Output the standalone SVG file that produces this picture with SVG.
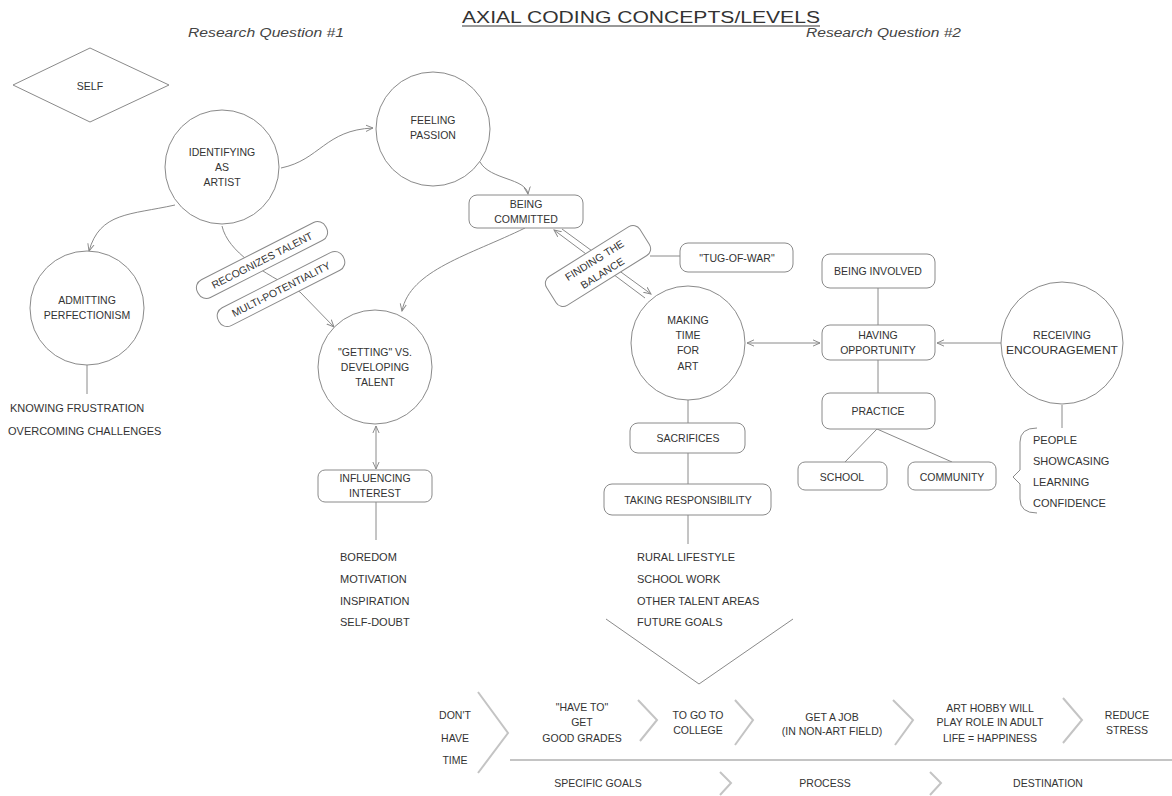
<svg xmlns="http://www.w3.org/2000/svg" width="1172" height="796" viewBox="0 0 1172 796">
<defs>
<marker id="arr" viewBox="0 0 10 10" refX="9" refY="5" markerWidth="8" markerHeight="8" orient="auto-start-reverse" markerUnits="userSpaceOnUse">
<path d="M0,1 L9,5 L0,9" fill="none" stroke="#888" stroke-width="1.2"/>
</marker>
<style>
.t{font-family:"Liberation Sans",Arial,sans-serif;font-size:10.5px;fill:#333;text-anchor:middle;dominant-baseline:central}
.l{font-family:"Liberation Sans",Arial,sans-serif;font-size:11px;fill:#333;dominant-baseline:central}
.n{fill:#fff;stroke:#8a8a8a;stroke-width:1}
.c{fill:none;stroke:#8a8a8a;stroke-width:1}
.ch{fill:none;stroke:#c4c4c4;stroke-width:2}
.rq{font-family:"Liberation Sans",Arial,sans-serif;font-size:12px;font-style:italic;fill:#444}
</style>
</defs>
<rect width="1172" height="796" fill="#fff"/>

<text x="641" y="23" font-family="Liberation Sans,Arial,sans-serif" font-size="16" fill="#333" text-anchor="middle" textLength="358" lengthAdjust="spacingAndGlyphs">AXIAL CODING CONCEPTS/LEVELS</text>
<line x1="462" y1="26" x2="820" y2="26" stroke="#333" stroke-width="1"/>
<text class="rq" x="188" y="37" textLength="156" lengthAdjust="spacingAndGlyphs">Research Question #1</text>
<text class="rq" x="806" y="37" textLength="155" lengthAdjust="spacingAndGlyphs">Research Question #2</text>

<g id="connectors">
<path class="c" d="M281,168 C320,160 325,130 373,128" marker-end="url(#arr)"/>
<path class="c" d="M175,205 C130,215 100,212 89,251" marker-end="url(#arr)"/>
<path class="c" d="M222,226 C228,252 262,272 300,292 L334,327" marker-end="url(#arr)"/>
<path class="c" d="M480,162 C490,180 526,178 528,194" marker-end="url(#arr)"/>
<path class="c" d="M525,228 C470,255 410,270 402,311" marker-end="url(#arr)"/>
<line class="c" x1="645" y1="298" x2="554" y2="230" marker-end="url(#arr)"/>
<line class="c" x1="562" y1="229" x2="651" y2="294" marker-end="url(#arr)"/>
<line class="c" x1="650" y1="256" x2="680" y2="256"/>
<line class="c" x1="376" y1="426" x2="376" y2="469" marker-start="url(#arr)" marker-end="url(#arr)"/>
<line class="c" x1="376" y1="502" x2="376" y2="540"/>
<line class="c" x1="87" y1="365" x2="87" y2="394"/>
<line class="c" x1="747" y1="343" x2="820" y2="343" marker-start="url(#arr)" marker-end="url(#arr)"/>
<line class="c" x1="1002" y1="343" x2="937" y2="343" marker-end="url(#arr)"/>
<line class="c" x1="878" y1="288" x2="878" y2="325"/>
<line class="c" x1="878" y1="360" x2="878" y2="393"/>
<line class="c" x1="877" y1="429" x2="845" y2="462"/>
<line class="c" x1="877" y1="429" x2="952" y2="462"/>
<line class="c" x1="1062" y1="405" x2="1062" y2="428"/>
<line class="c" x1="688" y1="400" x2="688" y2="423"/>
<line class="c" x1="688" y1="453" x2="688" y2="484"/>
<line class="c" x1="688" y1="515" x2="688" y2="544"/>
<path class="c" d="M1037,428 Q1020,428 1020,442 L1020,470 L1013,477 L1020,484 L1020,499 Q1020,513 1037,513"/>
</g>

<g id="self">
<polygon class="n" points="13,85 90,48 169,85 90,122"/>
<text class="t" x="90" y="86" font-size="14">SELF</text>
</g>

<g id="identifying">
<circle class="n" cx="222" cy="167" r="57"/>
<text class="t" x="222" y="152">IDENTIFYING</text>
<text class="t" x="222" y="167">AS</text>
<text class="t" x="222" y="182">ARTIST</text>
</g>

<g id="feeling">
<circle class="n" cx="433" cy="129" r="57"/>
<text class="t" x="433" y="120">FEELING</text>
<text class="t" x="433" y="135">PASSION</text>
</g>

<g id="admitting">
<circle class="n" cx="87" cy="308" r="57"/>
<text class="t" x="87" y="300">ADMITTING</text>
<text class="t" x="87" y="315">PERFECTIONISM</text>
</g>
<g id="admitting-list">
<text class="l" x="10" y="408">KNOWING FRUSTRATION</text>
<text class="l" x="8" y="431">OVERCOMING CHALLENGES</text>
</g>

<g id="recognizes" transform="translate(262,260) rotate(-27)">
<rect class="n" x="-72" y="-10" width="144" height="20" rx="9"/>
<text class="t" x="0" y="0">RECOGNIZES TALENT</text>
</g>
<g id="multi" transform="translate(281,289) rotate(-27)">
<rect class="n" x="-70" y="-10" width="140" height="20" rx="9"/>
<text class="t" x="0" y="0">MULTI-POTENTIALITY</text>
</g>

<g id="getting">
<circle class="n" cx="375" cy="367" r="57"/>
<text class="t" x="375" y="352">"GETTING" VS.</text>
<text class="t" x="375" y="367">DEVELOPING</text>
<text class="t" x="375" y="382">TALENT</text>
</g>

<g id="influencing">
<rect class="n" x="318" y="470" width="114" height="32" rx="7"/>
<text class="t" x="375" y="478">INFLUENCING</text>
<text class="t" x="375" y="493">INTEREST</text>
</g>
<g id="influencing-list">
<text class="l" x="340" y="557">BOREDOM</text>
<text class="l" x="340" y="579">MOTIVATION</text>
<text class="l" x="340" y="601">INSPIRATION</text>
<text class="l" x="340" y="622">SELF-DOUBT</text>
</g>

<g id="committed">
<rect class="n" x="469" y="195" width="114" height="33" rx="8"/>
<text class="t" x="526" y="204">BEING</text>
<text class="t" x="526" y="219">COMMITTED</text>
</g>

<g id="finding" transform="translate(598,266) rotate(-32)">
<rect class="n" x="-55" y="-17" width="110" height="34" rx="8"/>
<text class="t" x="0" y="-7">FINDING THE</text>
<text class="t" x="0" y="8">BALANCE</text>
</g>

<g id="tug">
<rect class="n" x="680" y="243" width="113" height="29" rx="8"/>
<text class="t" x="737" y="258">"TUG-OF-WAR"</text>
</g>

<g id="making">
<circle class="n" cx="688" cy="343" r="57"/>
<text class="t" x="688" y="320">MAKING</text>
<text class="t" x="688" y="335">TIME</text>
<text class="t" x="688" y="350">FOR</text>
<text class="t" x="688" y="366">ART</text>
</g>

<g id="sacrifices">
<rect class="n" x="630" y="423" width="115" height="30" rx="8"/>
<text class="t" x="688" y="438">SACRIFICES</text>
</g>

<g id="taking">
<rect class="n" x="604" y="484" width="167" height="31" rx="8"/>
<text class="t" x="688" y="500">TAKING RESPONSIBILITY</text>
</g>
<g id="taking-list">
<text class="l" x="637" y="557">RURAL LIFESTYLE</text>
<text class="l" x="637" y="579">SCHOOL WORK</text>
<text class="l" x="637" y="601">OTHER TALENT AREAS</text>
<text class="l" x="637" y="622">FUTURE GOALS</text>
</g>

<g id="involved">
<rect class="n" x="822" y="254" width="113" height="34" rx="8"/>
<text class="t" x="878" y="271">BEING INVOLVED</text>
</g>

<g id="opportunity">
<rect class="n" x="822" y="325" width="113" height="35" rx="8"/>
<text class="t" x="878" y="335">HAVING</text>
<text class="t" x="878" y="350">OPPORTUNITY</text>
</g>

<g id="practice">
<rect class="n" x="822" y="393" width="113" height="36" rx="8"/>
<text class="t" x="878" y="411">PRACTICE</text>
</g>

<g id="school">
<rect class="n" x="798" y="462" width="89" height="28" rx="7"/>
<text class="t" x="842" y="477">SCHOOL</text>
</g>

<g id="community">
<rect class="n" x="908" y="462" width="88" height="28" rx="7"/>
<text class="t" x="952" y="477">COMMUNITY</text>
</g>

<g id="receiving">
<circle class="n" cx="1062" cy="343" r="61"/>
<text class="t" x="1062" y="335">RECEIVING</text>
<text class="t" x="1062" y="350" textLength="112" lengthAdjust="spacingAndGlyphs">ENCOURAGEMENT</text>
</g>
<g id="receiving-list">
<text class="l" x="1033" y="440">PEOPLE</text>
<text class="l" x="1033" y="461">SHOWCASING</text>
<text class="l" x="1033" y="482">LEARNING</text>
<text class="l" x="1033" y="503">CONFIDENCE</text>
</g>

<g id="funnel">
<polyline class="c" points="606,619 699,684 793,619" stroke="#aaa"/>
</g>

<g id="flow">
<polyline class="ch" points="478,692 508,733 478,773"/>
<polyline class="ch" points="638,700 657,720 640,741"/>
<polyline class="ch" points="735,700 753,720 735,745"/>
<polyline class="ch" points="893,700 913,720 895,745"/>
<polyline class="ch" points="1063,698 1082,720 1063,743"/>
<line x1="510" y1="760" x2="1172" y2="760" stroke="#c4c4c4" stroke-width="2"/>
<polyline class="ch" points="720,772 731,783 720,795" stroke-width="1.5"/>
<polyline class="ch" points="930,772 941,783 930,795" stroke-width="1.5"/>
<text class="t" x="455" y="715">DON'T</text>
<text class="t" x="455" y="738">HAVE</text>
<text class="t" x="455" y="760">TIME</text>
<text class="t" x="582" y="707">"HAVE TO"</text>
<text class="t" x="582" y="722">GET</text>
<text class="t" x="582" y="738">GOOD GRADES</text>
<text class="t" x="698" y="715">TO GO TO</text>
<text class="t" x="698" y="730">COLLEGE</text>
<text class="t" x="832" y="717">GET A JOB</text>
<text class="t" x="832" y="731">(IN NON-ART FIELD)</text>
<text class="t" x="990" y="708">ART HOBBY WILL</text>
<text class="t" x="990" y="722">PLAY ROLE IN ADULT</text>
<text class="t" x="990" y="738">LIFE = HAPPINESS</text>
<text class="t" x="1127" y="715">REDUCE</text>
<text class="t" x="1127" y="730">STRESS</text>
<text class="t" x="598" y="783">SPECIFIC GOALS</text>
<text class="t" x="825" y="783">PROCESS</text>
<text class="t" x="1048" y="783">DESTINATION</text>
</g>
</svg>
